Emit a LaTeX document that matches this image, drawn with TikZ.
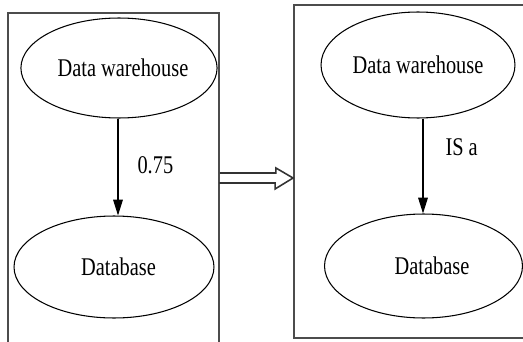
\documentclass[tikz,border=0pt]{standalone}
\usepackage{fontspec}
\usepackage{graphicx}
\setmainfont{Liberation Serif}
\usetikzlibrary{shapes.geometric, arrows.meta}

% narrow, tall lettering of the original
\newcommand{\squeeze}[1]{\scalebox{0.8}[1]{#1}}

\tikzset{
    concept/.style={ellipse, draw=black, line width=0.6pt, inner sep=0pt, font=\fontsize{14.5}{17}\selectfont},
    frame/.style={rectangle, draw=black!70, line width=1.1pt, inner sep=0pt},
    relation/.style={-{Triangle[length=9pt, width=5.5pt]}, line width=0.6pt},
    relabel/.style={font=\fontsize{14.5}{17}\selectfont, inner sep=0pt},
    fatarrow/.style={draw=black!80, line width=0.9pt, line join=miter},
}

\begin{document}
\begin{tikzpicture}[x=0.02cm, y=-0.02cm]
    \useasboundingbox (0, 0) rectangle (523, 341);
    \clip (0, 0) rectangle (523, 341);

    % Frames (cut off by the picture edge)
    \node[frame, minimum width=4.22cm, minimum height=6.94cm] (leftframe) at (113.5, 186.5) {};
    \node[frame, minimum width=4.92cm, minimum height=6.66cm] (rightframe) at (417, 171.5) {};

    % Left graph: weighted link
    \node[concept, minimum width=3.88cm, minimum height=2cm] (warehouseL) at (119, 68) {\hspace*{0.16cm}\squeeze{Data warehouse}};
    \node[concept, minimum width=4cm, minimum height=2.04cm] (databaseL) at (114, 267) {\hspace*{0.18cm}\squeeze{Database}};
    \draw[relation] (warehouseL.south -| 118, 0) -- node[relabel, pos=0.48, right=0.38cm] {\squeeze{0.75}} (databaseL.north -| 118, 0);

    % Right graph: named relation
    \node[concept, minimum width=3.88cm, minimum height=2.12cm] (warehouseR) at (418, 65) {\squeeze{Data warehouse}};
    \node[concept, minimum width=3.96cm, minimum height=2.08cm] (databaseR) at (423.5, 266) {\hspace*{0.34cm}\squeeze{Database}};
    \draw[relation] (warehouseR.south -| 423, 0) -- node[relabel, pos=0.3, right=0.44cm] {\squeeze{IS a}} (databaseR.north -| 423, 0);

    % Transformation arrow between the frames
    \coordinate (midrow) at (0, 178);
    \draw[fatarrow] (leftframe.east |- midrow) ++(0, -5) -- ++(56, 0) -- ++(0, -5)
        -- (rightframe.west |- midrow) -- ++(-18, 11) -- ++(0, -6) -- ++(-56, 0);
\end{tikzpicture}
\end{document}
